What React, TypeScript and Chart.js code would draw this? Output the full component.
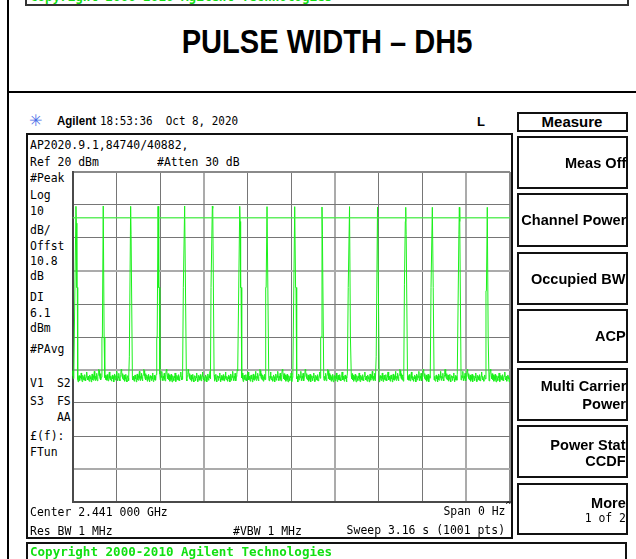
import React, { useEffect, useRef } from "react";
import { Chart, registerables } from "chart.js";

Chart.register(...registerables);

const SWEEP_MS = 3160; // Sweep 3.16 s, 0 Hz span
const SAMPLE_MS = 3.16; // 1001 pts
const REF_DBM = 20;
const BOTTOM_DBM = -80;
const DIV_DB = 10;
const DISPLAY_LINE_DBM = 6.1;

// burst centres (ms from sweep start)
const pulseTimes = [25, 222, 420, 618, 810, 1010, 1208, 1405, 1605, 1802, 2001, 2203, 2407, 2599, 2794, 2996];
// burst peak levels (dBm)
const pulsePeaks = [9.6, 9.7, 9.6, 9.6, 9.7, 9.7, 9.6, 9.5, 9.5, 9.4, 9.5, 9.4, 9.3, 9.3, 9.3, 9.3];
// shoulder levels around each burst (dBm), null = none
const pulsePreOuter = [null, -30, -36, -30, -15, -15, null, -15, null, -30, -15, -36, -14, -15, null, -16];
const pulsePreInner = [null, null, null, null, null, null, null, null, null, null, null, null, 5, null, 1, null];
const pulsePostInner = [4.5, null, 1, 9, null, 9, 5, null, null, 1, null, null, 1, null, 5, null];
const pulsePostOuter = [-15, -30, null, -15, null, null, -15, null, -15, null, -30, -15, null, -15, null, -30];
// noise floor samples between bursts (dBm)
const noiseFloor = [
  -40.2, -41.8, -42.6, -41.1, -43.0, -42.2, -41.5, -43.4, -42.0, -42.8,
  -41.3, -42.9, -43.6, -42.1, -41.7, -42.5, -43.2, -41.9, -42.4, -40.9,
  -42.7, -43.5, -42.3, -41.6, -42.9, -42.0, -43.1, -41.4, -42.6, -43.3,
  -42.2, -41.8, -40.6, -42.5, -43.0, -41.9, -42.8, -43.4, -42.1, -41.5,
  -42.7, -42.0, -43.6, -42.4, -41.2, -42.9, -43.1, -41.7, -42.3, -40.4,
  -42.6, -43.2, -41.9, -42.5, -41.0, -42.8, -43.3, -42.0, -41.4, -39.8,
];

function buildTrace() {
  const pts: { x: number; y: number }[] = [];
  const S = SAMPLE_MS;
  let cursor = 0;
  let gap = 0;
  const addNoise = (from: number, to: number) => {
    let k = 0;
    for (let x = from; x <= to + 1e-6; x += S) {
      pts.push({ x, y: noiseFloor[(k + 11 * gap) % noiseFloor.length] });
      k++;
    }
    gap++;
  };
  pulseTimes.forEach((t, i) => {
    addNoise(cursor, t - 4 * S);
    const po = pulsePreOuter[i];
    const pi = pulsePreInner[i];
    const qi = pulsePostInner[i];
    const qo = pulsePostOuter[i];
    if (po !== null) {
      pts.push({ x: t - 3 * S, y: po });
      pts.push({ x: t - 2 * S, y: po });
    }
    if (pi !== null) pts.push({ x: t - S, y: pi });
    pts.push({ x: t, y: pulsePeaks[i] });
    if (qi !== null) pts.push({ x: t + S, y: qi });
    if (qo !== null) {
      pts.push({ x: t + 2 * S, y: qo });
      pts.push({ x: t + 3 * S, y: qo });
    }
    cursor = t + 4 * S;
  });
  addNoise(cursor, SWEEP_MS);
  return pts;
}

// ---------- helpers ----------
const MONO = '"DejaVu Sans Mono", monospace';
const SANS = '"Liberation Sans", Arial, sans-serif';

type TxtProps = {
  x: number;
  cy: number;
  text: string;
  size?: number;
  font?: string;
  weight?: string | number;
  color?: string;
  align?: "left" | "right" | "center";
  sx?: number;
};

function Txt({ x, cy, text, size = 13, font = MONO, weight = "normal", color = "#000", align = "left", sx = 0.88 }: TxtProps) {
  const style: React.CSSProperties = {
    position: "absolute",
    top: cy - size * 0.485,
    whiteSpace: "pre",
    fontFamily: font,
    fontSize: size,
    fontWeight: weight as any,
    color,
    lineHeight: `${size}px`,
  };
  if (align === "left") {
    style.left = x;
    style.transform = `scaleX(${sx})`;
    style.transformOrigin = "left center";
  } else if (align === "right") {
    style.right = 636 - x;
    style.transform = `scaleX(${sx})`;
    style.transformOrigin = "right center";
  } else {
    style.left = x;
    style.transform = `translateX(-50%) scaleX(${sx})`;
    style.transformOrigin = "center center";
  }
  return <div style={style}>{text}</div>;
}

function Box({ l, t, r, b, bw = 2, color = "#111" }: { l: number; t: number; r: number; b: number; bw?: number; color?: string }) {
  return (
    <div
      style={{
        position: "absolute",
        left: l,
        top: t,
        width: r - l,
        height: b - t,
        border: `${bw}px solid ${color}`,
        boxSizing: "border-box",
      }}
    />
  );
}

function Trace() {
  const ref = useRef<HTMLCanvasElement | null>(null);
  useEffect(() => {
    if (!ref.current) return;
    const trace = buildTrace();
    const dl = [
      { x: 0, y: DISPLAY_LINE_DBM },
      { x: SWEEP_MS, y: DISPLAY_LINE_DBM },
    ];
    const chart = new Chart(ref.current, {
      type: "line",
      data: {
        datasets: [
          {
            data: dl,
            borderColor: "rgba(70,235,70,0.85)",
            borderWidth: 1.5,
            pointRadius: 0,
            tension: 0,
          },
          {
            data: trace,
            borderColor: "#1cf01c",
            borderWidth: 1,
            pointRadius: 0,
            tension: 0,
          },
        ],
      },
      options: {
        animation: false,
        responsive: false,
        parsing: false,
        normalized: true,
        events: [],
        layout: { padding: { left: 10.5, right: 10, top: 10, bottom: 10 } },
        plugins: { legend: { display: false }, tooltip: { enabled: false }, title: { display: false } },
        scales: {
          x: {
            type: "linear",
            min: 0,
            max: SWEEP_MS,
            ticks: { display: false, stepSize: SWEEP_MS / 10 },
            grid: {
              drawTicks: false,
              color: (c: any) => (c.index === 3 || c.index === 6 || c.index === 9 ? "#ababab" : c.index === 10 ? "#8a8a8a" : "#767676"),
              lineWidth: (c: any) => (c.index === 3 || c.index === 6 || c.index === 9 || c.index === 10 ? 2 : 1),
            },
            border: { display: true, color: "#4a4a4a", width: 2 },
          },
          y: {
            type: "linear",
            min: BOTTOM_DBM,
            max: REF_DBM,
            ticks: { display: false, stepSize: DIV_DB },
            grid: {
              drawTicks: false,
              color: (c: any) => (c.index === 1 || c.index === 4 || c.index === 7 ? "#ababab" : c.index === 10 ? "#8a8a8a" : "#767676"),
              lineWidth: (c: any) => (c.index === 1 || c.index === 4 || c.index === 7 || c.index === 10 ? 2 : 1),
            },
            border: { display: true, color: "#4a4a4a", width: 2 },
          },
        },
      },
    });
    return () => chart.destroy();
  }, []);
  return (
    <canvas
      ref={ref}
      width={458}
      height={350}
      style={{ position: "absolute", left: 62, top: 162, width: 458, height: 350 }}
    />
  );
}

const leftAnnots: { text: string; cy: number; x: number; align?: "left" | "right" }[] = [
  { text: "#Peak", cy: 177, x: 30 },
  { text: "Log", cy: 194, x: 30 },
  { text: "10", cy: 210.7, x: 30 },
  { text: "dB/", cy: 229, x: 30 },
  { text: "Offst", cy: 245.3, x: 30 },
  { text: "10.8", cy: 260.5, x: 30 },
  { text: "dB", cy: 275.8, x: 30 },
  { text: "DI", cy: 296.7, x: 30 },
  { text: "6.1", cy: 312.3, x: 30 },
  { text: "dBm", cy: 327.7, x: 30 },
  { text: "#PAvg", cy: 348.3, x: 30 },
  { text: "V1", cy: 382.7, x: 30 },
  { text: "S2", cy: 382.7, x: 70.5, align: "right" },
  { text: "S3", cy: 400, x: 30 },
  { text: "FS", cy: 400, x: 70.5, align: "right" },
  { text: "AA", cy: 416.7, x: 70.5, align: "right" },
  { text: "£(f):", cy: 435.7, x: 30 },
  { text: "FTun", cy: 451.7, x: 30 },
];

const softKeys: { t: number; b: number; lines: string[]; cys: number[] }[] = [
  { t: 135.5, b: 189, lines: ["Meas Off"], cys: [162] },
  { t: 193.3, b: 246.7, lines: ["Channel Power"], cys: [219.5] },
  { t: 251.7, b: 305, lines: ["Occupied BW"], cys: [278.3] },
  { t: 309.3, b: 363.3, lines: ["ACP"], cys: [335.3] },
  { t: 367.7, b: 420.7, lines: ["Multi Carrier", "Power"], cys: [385.3, 402.8] },
  { t: 425, b: 478.3, lines: ["Power Stat", "CCDF"], cys: [443.8, 459.8] },
  { t: 483.3, b: 535, lines: ["More", "1 of 2"], cys: [502, 517.7] },
];

export default function App() {
  return (
    <div
      style={{
        position: "absolute",
        left: 0,
        top: 0,
        width: 636,
        height: 559,
        overflow: "hidden",
        background: "#fff",
      }}
    >
      {/* page frame */}
      <div style={{ position: "absolute", left: 7, top: 0, width: 2, height: 559, background: "#000" }} />
      <div style={{ position: "absolute", left: 7, top: 91, width: 629, height: 2, background: "#000" }} />
      {/* previous page's copyright strip */}
      <Box l={25} t={-20} r={629} b={6} color="#333" />
      <Txt x={30} cy={-3.5} text="Copyright 2000-2010 Agilent Technologies" size={13} weight="bold" color="#12e012" sx={0.965} />
      {/* title */}
      <Txt x={327} cy={40} text="PULSE WIDTH – DH5" size={34} font={SANS} weight="bold" align="center" sx={0.855} />

      {/* header */}
      <Txt x={29} cy={120.5} text="✳" size={16} font='"DejaVu Sans", sans-serif' color="#4a6ee8" sx={1} />
      <Txt x={57} cy={120.5} text="Agilent" size={12} font={SANS} weight="bold" sx={0.96} />
      <Txt x={100} cy={120.5} text="18:53:36  Oct 8, 2020" size={12} sx={0.91} />
      <Txt x={477} cy={121} text="L" size={13} font={SANS} weight="bold" sx={1} />
      <Box l={516.5} t={112.3} r={627.5} b={131.7} />
      <Txt x={572} cy={121.2} text="Measure" size={15} font={SANS} weight="bold" align="center" sx={1} />

      {/* instrument screen */}
      <Box l={26} t={133} r={513} b={538.5} />
      <Txt x={30} cy={144} text="AP2020.9.1,84740/40882," />
      <Txt x={30} cy={161.7} text="Ref 20 dBm" />
      <Txt x={157} cy={161.7} text="#Atten 30 dB" />
      {leftAnnots.map((a, i) => (
        <Txt key={i} x={a.x} cy={a.cy} text={a.text} align={a.align || "left"} />
      ))}
      <Trace />
      <Txt x={30} cy={511.5} text="Center 2.441 000 GHz" />
      <Txt x={505} cy={510.5} text="Span 0 Hz" align="right" />
      <Txt x={505.5} cy={505} text="^" size={9} sx={1} />
      <Txt x={30} cy={530} text="Res BW 1 MHz" />
      <Txt x={233} cy={530} text="#VBW 1 MHz" />
      <Txt x={505} cy={529} text="Sweep 3.16 s (1001 pts)" align="right" />

      {/* soft keys */}
      {softKeys.map((k, i) => (
        <React.Fragment key={i}>
          <Box l={516.5} t={k.t} r={628.3} b={k.b} />
          {k.lines.map((ln, j) => (
            <Txt
              key={j}
              x={626}
              cy={k.cys[j]}
              text={ln}
              size={ln === "1 of 2" ? 13 : 15}
              font={ln === "1 of 2" ? MONO : SANS}
              weight={ln === "1 of 2" ? "normal" : "bold"}
              align="right"
              sx={ln === "1 of 2" ? 0.88 : 0.97}
            />
          ))}
        </React.Fragment>
      ))}

      {/* copyright bar */}
      <Box l={26} t={541.7} r={627} b={575} />
      <Txt x={30} cy={551.6} text="Copyright 2000-2010 Agilent Technologies" size={13} weight="bold" color="#12e012" sx={0.965} />
    </div>
  );
}
